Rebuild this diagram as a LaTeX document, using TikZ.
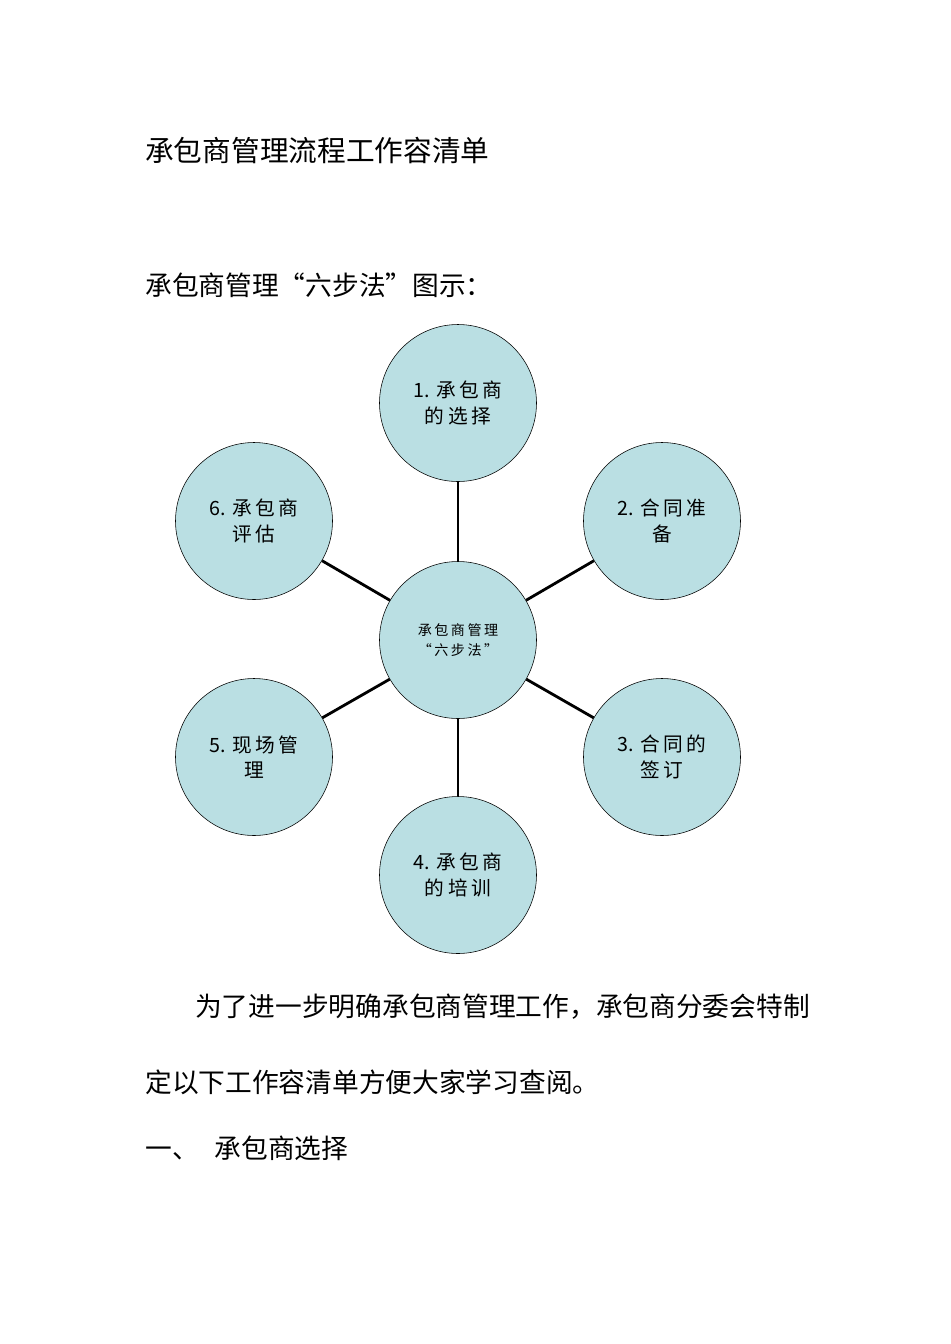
\documentclass[tikz,border=0pt]{standalone}
\usepackage{fontspec}
\setmainfont{Noto Sans CJK SC}
\newfontfamily\cjkwide[LetterSpace=18]{Noto Sans CJK SC}
\definecolor{stepblue}{RGB}{186,223,227}
\newcommand{\stepno}[1]{{\normalfont #1.}\hspace{0.3em}}

\tikzstyle{step circle}=[circle, draw, thin, fill=stepblue, minimum size=157*0.025cm, inner sep=0pt, align=center, font=\cjkwide\fontsize{14}{18}\selectfont]
\tikzstyle{hub circle}=[step circle, font=\cjkwide\fontsize{10}{14}\selectfont]
\tikzstyle{spoke}=[line width=2pt]
\tikzstyle{body}=[anchor=west, inner sep=0pt, font=\fontsize{19}{22}\selectfont]

\begin{document}
\begin{tikzpicture}[x=0.025cm, y=-0.025cm]
            \useasboundingbox (0,0) rectangle (950,1344);
            % texts above the picture
            \node[body, font=\fontsize{20.4}{24}\selectfont] at (145,151) (title) {承包商管理流程工作容清单};
            \node[body] at (145,285) (caption) {承包商管理“六步法”图示：};
            % six steps round the hub
            \node[hub circle] at (458,640) (hub) {承包商管理\\“六步法”};
            \node[step circle] at (458,403) (s1) {\stepno{1}承包商\\的选择};
            \node[step circle] at (662,521) (s2) {\stepno{2}合同准\\备};
            \node[step circle] at (662,757) (s3) {\stepno{3}合同的\\签订};
            \node[step circle] at (458,875) (s4) {\stepno{4}承包商\\的培训};
            \node[step circle] at (254,757) (s5) {\stepno{5}现场管\\理};
            \node[step circle] at (254,521) (s6) {\stepno{6}承包商\\评估};
            \foreach \s in {s1,s2,s3,s4,s5,s6}
                \draw[spoke] (hub) -- (\s);
            % texts below the picture
            \node[body] at (195,1007) (para1) {为了进一步明确承包商管理工作，承包商分委会特制};
            \node[body] at (145,1082) (para2) {定以下工作容清单方便大家学习查阅。};
            \node[body] at (145,1148) (head1) {一、\hspace{0.6em}承包商选择};
        \end{tikzpicture}
\end{document}
